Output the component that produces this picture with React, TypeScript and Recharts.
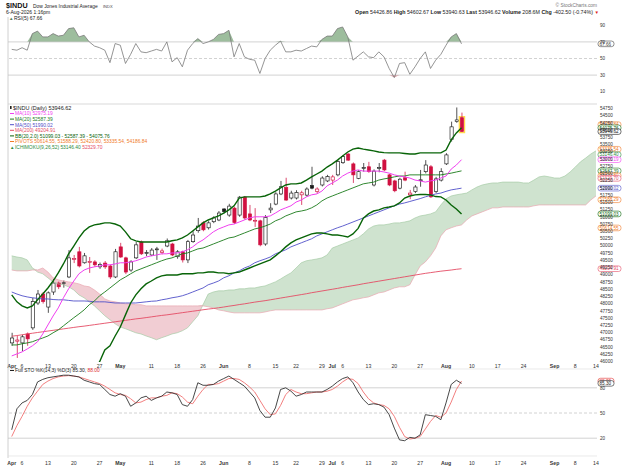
import React from 'react';
import { ComposedChart, Line, Area, Bar, XAxis, YAxis, ReferenceLine } from 'recharts';

const FONT = '"Liberation Sans", Arial, Helvetica, sans-serif';
const RED = '#d01040';
const X_DOMAIN: [number, number] = [-0.72, 113.2];

// ---- daily candles (Apr 1 .. Aug 6, 2026) ----
const openP = [46640, 46700, 46640, 46950, 47160, 48020, 48330, 47880, 48400, 48710,
  48700, 48920, 49520, 49790, 49410, 49420, 49440, 49270, 49400, 49300,
  48920, 49960, 49580, 49160, 49580, 50130, 49750, 49680, 49880, 49760,
  49990, 50060, 49620, 49790, 49510, 50140, 50520, 50790, 50620, 50830,
  50890, 51270, 51060, 51300, 51060, 51680, 51100, 50850, 50860, 50060,
  51240, 51440, 51790, 52010, 51650, 51650, 51760, 51750, 52080, 51870,
  52100, 52240, 52270, 52450, 52870, 53170, 52830, 52330, 52690, 52730,
  52100, 52690, 52960, 52450, 52240, 51990, 52350, 51760, 51870, 52260,
  52560, 52730, 51870, 52270, 52830, 53680, 54290, 54426.86];
const highP = [46990, 46880, 46920, 47000, 48200, 48470, 48400, 48420, 48850, 48760,
  48800, 49850, 49680, 49960, 49750, 49610, 49500, 49420, 49470, 49340,
  49890, 50100, 49620, 49500, 50130, 50180, 49850, 49920, 49960, 49900,
  50250, 50100, 49850, 49830, 50200, 50500, 50960, 50850, 50850, 51020,
  51200, 51300, 51450, 51350, 51720, 51720, 51410, 51300, 50900, 51060,
  51470, 51850, 52240, 52350, 51900, 51920, 51900, 52020, 52730, 52020,
  52400, 52450, 52450, 52960, 53140, 53200, 52880, 52610, 52860, 52900,
  52640, 52860, 53000, 52480, 52280, 52350, 52560, 51930, 52100, 52620,
  52960, 52790, 52380, 52680, 53200, 54290, 54780, 54602.67];
const lowP = [46540, 46120, 46360, 46540, 47090, 47950, 48000, 47680, 48300, 48500,
  48550, 48880, 49400, 49250, 49380, 49060, 49270, 49200, 49200, 48850,
  48880, 49580, 49020, 49100, 49540, 49680, 49640, 49640, 49510, 49700,
  49950, 49640, 49550, 49420, 49400, 50100, 50450, 50500, 50560, 50780,
  50850, 51120, 51000, 50750, 51000, 50900, 50850, 50650, 49980, 50000,
  51130, 51400, 51750, 51550, 51600, 51600, 51410, 51700, 51950, 51800,
  52050, 52200, 52100, 52400, 52830, 52930, 52170, 52300, 52560, 52520,
  52050, 52540, 52580, 52060, 51850, 51950, 52230, 51610, 51820, 52040,
  52500, 51650, 51820, 52220, 52790, 53600, 54250, 53940.63];
const closeP = [46810, 46740, 46850, 46780, 48070, 48330, 48070, 48370, 48710, 48580,
  48720, 49580, 49560, 49300, 49650, 49460, 49340, 49350, 49270, 48920,
  49790, 49610, 49090, 49440, 50030, 49720, 49760, 49850, 49890, 49820,
  50170, 49680, 49790, 49510, 50140, 50370, 50680, 50550, 50790, 50960,
  51130, 51180, 51370, 50800, 51680, 50960, 50890, 50880, 50030, 50970,
  51300, 51790, 52040, 51580, 51820, 51840, 51830, 51960, 51990, 51960,
  52340, 52390, 52380, 52910, 53080, 52960, 52450, 52560, 52700, 52560,
  52580, 52700, 52620, 52100, 51900, 52300, 52270, 51820, 52030, 52280,
  52790, 51690, 52310, 52560, 53140, 54110, 54349.12, 53946.62];

// ---- overlays ----
const ma10 = [46190, 46260, 46330, 46430, 46540, 46680, 46950, 47260, 47570, 47850,
  48200, 48510, 48780, 49030, 49160, 49230, 49270, 49300, 49340, 49340,
  49370, 49410, 49410, 49440, 49480, 49540, 49610, 49650, 49680, 49720,
  49720, 49750, 49750, 49790, 49860, 49960, 50100, 50200, 50340, 50480,
  50580, 50650, 50720, 50750, 50820, 50890, 50960, 51000, 51000, 51000,
  51030, 51130, 51240, 51310, 51380, 51510, 51580, 51690, 51760, 51790,
  51890, 52070, 52170, 52270, 52410, 52510, 52580, 52620, 52580, 52580,
  52580, 52580, 52550, 52510, 52450, 52410, 52380, 52340, 52270, 52240,
  52200, 52240, 52270, 52340, 52410, 52650, 52790, 52975.19];
const ma20 = [46570, 46570, 46610, 46640, 46680, 46750, 46810, 46880, 46990, 47090,
  47230, 47370, 47510, 47640, 47780, 47960, 48090, 48270, 48400, 48540,
  48680, 48820, 48920, 49030, 49130, 49200, 49270, 49340, 49410, 49480,
  49540, 49580, 49650, 49720, 49750, 49820, 49890, 49920, 49990, 50060,
  50130, 50200, 50270, 50300, 50370, 50440, 50510, 50580, 50620, 50680,
  50750, 50860, 50930, 51030, 51100, 51170, 51200, 51240, 51310, 51410,
  51550, 51650, 51720, 51790, 51860, 51930, 52000, 52070, 52140, 52170,
  52200, 52270, 52310, 52340, 52380, 52410, 52410, 52450, 52450, 52450,
  52450, 52450, 52450, 52450, 52480, 52510, 52550, 52587.39];
const ma50 = [48400, 48330, 48270, 48230, 48200, 48180, 48160, 48160, 48140, 48130,
  48130, 48110, 48090, 48090, 48090, 48080, 48060, 48060, 48060, 48040,
  48020, 48020, 48020, 48020, 48020, 48040, 48060, 48080, 48090, 48130,
  48160, 48200, 48230, 48270, 48330, 48400, 48470, 48540, 48650, 48710,
  48780, 48890, 48960, 49060, 49130, 49230, 49300, 49410, 49480, 49540,
  49610, 49720, 49790, 49860, 49960, 50030, 50100, 50170, 50240, 50340,
  50410, 50480, 50550, 50620, 50680, 50750, 50820, 50890, 50960, 51030,
  51100, 51170, 51240, 51310, 51380, 51440, 51480, 51530, 51580, 51630,
  51690, 51740, 51790, 51820, 51880, 51930, 51960, 51990.02];
const ma200 = [46870, 46895, 46920, 46950, 46975, 47000, 47025, 47050, 47075, 47100,
  47125, 47150, 47175, 47200, 47220, 47245, 47270, 47295, 47320, 47345,
  47370, 47395, 47420, 47445, 47470, 47490, 47515, 47540, 47565, 47590,
  47610, 47635, 47660, 47685, 47710, 47735, 47760, 47785, 47810, 47830,
  47855, 47880, 47910, 47935, 47965, 47990, 48020, 48050, 48075, 48100,
  48130, 48160, 48190, 48220, 48250, 48280, 48310, 48340, 48375, 48405,
  48435, 48465, 48495, 48525, 48560, 48590, 48620, 48650, 48685, 48715,
  48745, 48775, 48805, 48835, 48865, 48895, 48925, 48955, 48985, 49015,
  49045, 49070, 49095, 49120, 49140, 49160, 49185, 49204.91];
const bbUpper = [48300, 48060, 47920, 47850, 47920, 48130, 48330, 48540, 48780, 49060,
  49370, 49720, 49990, 50270, 50510, 50650, 50720, 50750, 50790, 50790,
  50750, 50680, 50480, 50240, 50170, 50130, 50130, 50130, 50130, 50130,
  50130, 50170, 50200, 50270, 50370, 50510, 50650, 50790, 50890, 50960,
  51030, 51130, 51240, 51380, 51650, 51690, 51690, 51690, 51690, 51720,
  51790, 51890, 52000, 52100, 52140, 52140, 52170, 52270, 52380, 52480,
  52580, 52720, 52830, 52960, 53100, 53240, 53340, 53380, 53340, 53310,
  53280, 53240, 53220, 53210, 53210, 53210, 53190, 53170, 53170, 53210,
  53210, 53210, 53210, 53210, 53310, 53660, 53900, 54075.76];
const bbLower = [45300, 45200, 45100, 45000, 44900, 44850, 44800, 44800, 44850, 44900,
  45000, 45050, 45100, 45200, 45300, 45500, 45750, 45990, 46400, 46540,
  46880, 47190, 47610, 48020, 48300, 48510, 48680, 48780, 48890, 48960,
  48990, 48990, 48990, 49030, 49030, 49030, 49060, 49060, 49090, 49090,
  49060, 49060, 49030, 49060, 49090, 49160, 49230, 49300, 49370, 49440,
  49510, 49650, 49790, 49960, 50100, 50200, 50270, 50340, 50410, 50440,
  50440, 50410, 50370, 50370, 50340, 50300, 50410, 50600, 50950, 51100,
  51200, 51240, 51310, 51340, 51380, 51480, 51650, 51720, 51760, 51770,
  51770, 51760, 51700, 51690, 51580, 51410, 51270, 51099.03];

// ---- Ichimoku cloud spans (plotted 26 sessions ahead: Apr 1 .. Sep 14) ----
const spanA = [49650, 49610, 49580, 49510, 49230, 49090, 49030, 48890, 48750, 48680,
  48650, 48580, 48470, 48300, 48200, 48060, 47920, 47750, 47580, 47440,
  47300, 47190, 47130, 47060, 46990, 46950, 46880, 46820, 46750, 46820,
  46880, 46950, 46990, 47060, 47160, 47370, 47580, 47960, 48330, 48400,
  48440, 48440, 48470, 48470, 48510, 48510, 48540, 48540, 48580, 48610,
  48680, 48750, 48850, 48960, 49060, 49230, 49410, 49480, 49510, 49540,
  49580, 49680, 49920, 49990, 50060, 50130, 50200, 50270, 50410, 50580,
  50680, 50720, 50720, 50750, 50790, 50790, 50820, 50860, 50960, 51030,
  51060, 51100, 51170, 51410, 51620, 51720, 51760, 51790, 51820, 51930,
  52030, 52100, 52140, 52170, 52170, 52200, 52200, 52200, 52200, 52170,
  52170, 52270, 52380, 52410, 52380, 52340, 52340, 52410, 52550, 52720,
  52900, 53030, 53170, 53280];
const spanB = [49160, 49130, 49130, 49130, 49160, 49160, 49230, 49090, 48890, 48820,
  48780, 48750, 48720, 48680, 48610, 48580, 48470, 48330, 48160, 48090,
  48060, 48020, 47990, 47990, 47960, 47960, 47920, 47920, 47920, 47920,
  47920, 47920, 47920, 47920, 47920, 47920, 47920, 47920, 47890, 47850,
  47780, 47750, 47710, 47680, 47680, 47680, 47680, 47680, 47680, 47710,
  47750, 47780, 47780, 47780, 47780, 47780, 47780, 47780, 47780, 47780,
  47780, 47820, 47850, 47920, 47990, 48060, 48130, 48160, 48200, 48230,
  48300, 48370, 48400, 48470, 48540, 48580, 48580, 48650, 48990, 49300,
  49440, 49650, 49920, 50340, 50550, 50620, 50680, 50720, 50890, 51030,
  51100, 51170, 51240, 51310, 51310, 51340, 51340, 51340, 51340, 51340,
  51340, 51380, 51410, 51410, 51410, 51410, 51410, 51410, 51410, 51410,
  51410, 51410, 51580, 51720];

// ---- indicator panels ----
const rsi5 = [61, 60, 63, 60, 80, 83, 76, 76, 80, 77,
  78, 86, 87, 76, 78, 70, 65, 63, 60, 45,
  68, 66, 44, 55, 68, 58, 57, 59, 61, 59,
  70, 46, 51, 40, 60, 68, 74, 68, 70, 73,
  79, 80, 84, 52, 68, 52, 49, 48, 32, 50,
  60, 66, 71, 58, 58, 60, 59, 62, 65, 64,
  73, 77, 77, 86, 88, 76, 48, 53, 58, 52,
  51, 58, 52, 38, 27, 44, 45, 31, 40, 50,
  58, 38, 48, 55, 66, 76, 80, 67.66];
const stoK = [30, 55, 62, 65, 72, 87, 90, 92, 93, 94,
  95, 95, 94, 93, 89, 87, 85, 84, 78, 72,
  70, 73, 70, 58, 62, 68, 70, 65, 68, 70,
  75, 74, 72, 60, 58, 66, 86, 83, 83, 84,
  88, 91, 94, 90, 86, 82, 75, 68, 53, 45,
  45, 56, 78, 80, 76, 70, 72, 75, 75, 75,
  75, 78, 82, 87, 91, 93, 86, 75, 66, 60,
  61, 60, 57, 48, 32, 18, 17, 21, 20, 24,
  48, 47, 46, 42, 62, 84, 89, 85.3];
const stoD = [22, 35, 46, 58, 68, 76, 84, 88, 91, 93,
  94, 94.5, 94, 93, 91, 89, 87, 85, 82, 78,
  74, 72, 71, 67, 62, 63, 66, 68, 68, 70,
  71, 74, 73, 69, 63, 61, 70, 78, 84, 84,
  85, 88, 91, 91, 90, 86, 81, 75, 65, 55,
  48, 49, 59, 72, 78, 75, 73, 73, 74, 75,
  75, 76, 78, 82, 87, 91, 90, 85, 75, 67,
  62, 60, 59, 55, 46, 33, 22, 19, 20, 22,
  31, 40, 47, 45, 50, 63, 78, 88];

// ---- axes ----
const dateTickIdx = [0, 2, 7, 12, 17, 21, 27, 32, 37, 41, 46, 51, 55, 60, 62, 64, 69, 74, 79, 84, 89, 94, 99, 105, 109, 113];
const dateTickText = ['Apr', '6', '13', '20', '27', 'May', '11', '18', '26', 'Jun', '8', '15', '22', '29', 'Jul', '6', '13', '20', '27', 'Aug', '10', '17', '24', 'Sep', '8', '14'];
const monthNames = ['Apr', 'May', 'Jun', 'Jul', 'Aug', 'Sep'];
const priceTicks = [46000, 46250, 46500, 46750, 47000, 47250, 47500, 47750, 48000, 48250, 48500, 48750,
  49000, 49250, 49500, 49750, 50000, 50250, 50500, 50750, 51000, 51250, 51500, 51750,
  52000, 52250, 52500, 52750, 53000, 53250, 53500, 53750, 54000, 54250, 54500, 54750];
const rsiTicks = [10, 30, 50, 70, 90];
const stoTicks = [20, 50, 80];

const C_MA10 = '#f040f0';
const C_MA20 = '#1a7a1a';
const C_MA50 = '#5050c8';
const C_MA200 = '#e44c64';
const C_BB = '#086408';
const C_PIV = '#f07a28';
const C_ICH = '#2e8b3e';

const valueBoxes = [
  { v: 54186.84, t: '54186.84', c: C_PIV },
  { v: 54075.76, t: '54075.76', c: C_BB },
  { v: 53946.62, t: '53946.62', c: '#111' },
  { v: 53335.54, t: '53335.54', c: C_PIV },
  { v: 53146.40, t: '53146.40', c: C_ICH },
  { v: 52975.19, t: '52975.19', c: C_MA10 },
  { v: 52587.39, t: '52587.39', c: C_MA20 },
  { v: 52420.80, t: '52420.80', c: C_PIV },
  { v: 52329.70, t: '52329.70', c: C_MA200 },
  { v: 51990.02, t: '51990.02', c: C_MA50 },
  { v: 51588.29, t: '51588.29', c: C_PIV },
  { v: 51099.03, t: '51099.03', c: C_BB },
  { v: 50614.55, t: '50614.55', c: C_PIV },
  { v: 49204.91, t: '49204.91', c: C_MA200 },
];

const N = closeP.length;

const mainData = spanA.map((a, i) => {
  const b = spanB[i];
  const hi = Math.max(a, b);
  const row: any = { i, spanA: a, spanB: b, green: [b, hi], red: [a, hi] };
  if (i < N) {
    row.range = [lowP[i], highP[i]];
    row.o = openP[i];
    row.h = highP[i];
    row.l = lowP[i];
    row.c = closeP[i];
    row.pc = i > 0 ? closeP[i - 1] : null;
    row.ma10 = ma10[i];
    row.ma20 = ma20[i];
    row.ma50 = ma50[i];
    row.ma200 = ma200[i];
    row.bbU = bbUpper[i];
    row.bbL = bbLower[i];
  }
  return row;
});

const rsiData = rsi5.map((v, i) => ({ i, rsi: v, hiBand: [70, Math.max(v, 70)], loBand: [Math.min(v, 30), 30] }));
const stoData = stoK.map((k, i) => ({ i, k, d: stoD[i] }));

function Candle(props: any) {
  const { x, y, width, height, payload } = props;
  if (!payload || payload.o == null || !isFinite(y) || !isFinite(height)) return null;
  const top = Math.min(y, y + height);
  const hgt = Math.abs(height);
  const { o, h, l, c, pc } = payload;
  const ppu = h > l ? hgt / (h - l) : 0;
  const py = (v: number) => top + (h - v) * ppu;
  const cx = x + width / 2;
  const hollow = c >= o;
  const col = pc != null && c < pc ? RED : '#1a1a1a';
  const bTop = py(Math.max(o, c));
  const bH = Math.max(py(Math.min(o, c)) - bTop, 0.9);
  const bw = 3.2;
  return (
    <g>
      {payload.i === N - 1 && (
        <rect x={cx - bw / 2 - 1} y={bTop - 1} width={bw + 2} height={bH + 2} fill="none" stroke="#ffd84a" strokeWidth={1.3} />
      )}
      <line x1={cx} x2={cx} y1={top} y2={top + hgt} stroke={col} strokeWidth={0.75} />
      <rect x={cx - bw / 2} y={bTop} width={bw} height={bH} fill={hollow ? '#fff' : col} stroke={col} strokeWidth={0.65} />
    </g>
  );
}

function ValueBox(props: any) {
  const { viewBox, text, color, w } = props;
  if (!viewBox) return null;
  const x = viewBox.x + viewBox.width + 1;
  const y = viewBox.y;
  const bw = w || 23;
  return (
    <g>
      <rect x={x} y={y - 2.8} width={bw} height={5.6} rx={2.5} fill="#fff" stroke={color} strokeWidth={0.6} />
      <text x={x + 1.5} y={y + 1.7} fontSize={4.6} fill={color} fontFamily={FONT}>{text}</text>
    </g>
  );
}

function SideTick(props: any) {
  const { x, y, payload } = props;
  return (
    <text x={x} y={y + 1.7} fontSize={4.6} fill="#333" fontFamily={FONT}>{payload.value}</text>
  );
}

function makeDateTick(dy: number) {
  return function DateTick(props: any) {
    const { x, y, payload } = props;
    const k = dateTickIdx.indexOf(payload.value);
    const label = k >= 0 ? dateTickText[k] : '';
    const bold = monthNames.indexOf(label) >= 0;
    return (
      <text x={x} y={y + dy} textAnchor="middle" fontSize={5.2} fontWeight={bold ? 'bold' : 'normal'} fill="#333" fontFamily={FONT}>
        {label}
      </text>
    );
  };
}
const MainDateTick = makeDateTick(5.5);
const StoDateTick = makeDateTick(10);

const legendRows = [
  { t: 'MA(10) 52975.19', c: C_MA10 },
  { t: 'MA(20) 52587.39', c: C_MA20 },
  { t: 'MA(50) 51990.02', c: C_MA50 },
  { t: 'MA(200) 49204.91', c: C_MA200 },
  { t: 'BB(20,2.0) 51099.03 - 52587.39 - 54075.76', c: C_BB },
  { t: 'PIVOTS 50614.55, 51588.29, 52420.80, 53335.54, 54186.84', c: C_PIV },
];

export default function App() {
  return (
    <div style={{ position: 'absolute', left: 0, top: 0, width: 624, height: 467, background: '#fff', overflow: 'hidden', fontFamily: FONT }}>
      {/* RSI panel */}
      <div style={{ position: 'absolute', left: 0, top: 0 }}>
        <ComposedChart width={624} height={104} data={rsiData} margin={{ top: 17, right: 0, bottom: 4, left: 8 }}>
          <XAxis dataKey="i" type="number" domain={X_DOMAIN} allowDataOverflow hide />
          <YAxis orientation="right" width={27} domain={[0, 100]} allowDataOverflow ticks={rsiTicks} interval={0}
            tick={<SideTick />} tickLine={false} axisLine={false} tickSize={0} tickMargin={3} />
          <ReferenceLine y={70} stroke="#c6c6c6" strokeWidth={0.8} />
          <ReferenceLine y={50} stroke="#c6c6c6" strokeWidth={0.8} strokeDasharray="3 2" />
          <ReferenceLine y={30} stroke="#c6c6c6" strokeWidth={0.8} />
          <Area dataKey="hiBand" fill="#9dbd9d" fillOpacity={1} stroke="none" isAnimationActive={false} />
          <Area dataKey="loBand" fill="#e4a4ac" fillOpacity={1} stroke="none" isAnimationActive={false} />
          <Line dataKey="rsi" stroke="#7a7a7a" strokeWidth={0.8} dot={false} isAnimationActive={false} />
          <ReferenceLine y={67.66} stroke="none" label={<ValueBox text="67.66" color="#444" w={16} />} />
        </ComposedChart>
      </div>

      {/* Price panel */}
      <div style={{ position: 'absolute', left: 0, top: 104 }}>
        <ComposedChart width={624} height={268} data={mainData} margin={{ top: 0, right: 0, bottom: 0, left: 8 }}>
          <XAxis dataKey="i" type="number" domain={X_DOMAIN} allowDataOverflow ticks={dateTickIdx} interval={0}
            tick={<MainDateTick />} tickLine={false} axisLine={false} height={10} tickSize={0} tickMargin={0} />
          <YAxis orientation="right" width={27} domain={[45980, 54900]} allowDataOverflow ticks={priceTicks} interval={0}
            tick={<SideTick />} tickLine={false} axisLine={false} tickSize={0} tickMargin={3} />
          <Area dataKey="green" fill="#cfe3cf" fillOpacity={1} stroke="none" isAnimationActive={false} />
          <Area dataKey="red" fill="#f1cdd3" fillOpacity={1} stroke="none" isAnimationActive={false} />
          <Line dataKey="spanA" stroke="#a6cca6" strokeWidth={0.7} dot={false} isAnimationActive={false} />
          <Line dataKey="spanB" stroke="#eaa6b0" strokeWidth={0.7} dot={false} isAnimationActive={false} />
          <Line dataKey="ma200" stroke={C_MA200} strokeWidth={0.9} dot={false} isAnimationActive={false} />
          <Line dataKey="ma50" stroke={C_MA50} strokeWidth={0.9} dot={false} isAnimationActive={false} />
          <Line dataKey="ma20" stroke={C_MA20} strokeWidth={0.9} dot={false} isAnimationActive={false} />
          <Line dataKey="bbU" stroke={C_BB} strokeWidth={1.4} dot={false} isAnimationActive={false} />
          <Line dataKey="bbL" stroke={C_BB} strokeWidth={1.4} dot={false} isAnimationActive={false} />
          <Line dataKey="ma10" stroke={C_MA10} strokeWidth={1} dot={false} isAnimationActive={false} />
          <Bar dataKey="range" barSize={4} isAnimationActive={false} shape={(p: any) => <Candle {...p} />} />
          {valueBoxes.map((b) => (
            <ReferenceLine key={b.t} y={b.v} stroke="none" label={<ValueBox text={b.t} color={b.c} />} />
          ))}
        </ComposedChart>
      </div>

      {/* Stochastics panel */}
      <div style={{ position: 'absolute', left: 0, top: 371 }}>
        <ComposedChart width={624} height={96} data={stoData} margin={{ top: 0, right: 0, bottom: 0, left: 8 }}>
          <XAxis dataKey="i" type="number" domain={X_DOMAIN} allowDataOverflow ticks={dateTickIdx} interval={0}
            tick={<StoDateTick />} tickLine={false} axisLine={false} height={12} tickSize={0} tickMargin={0} />
          <YAxis orientation="right" width={27} domain={[0, 100]} allowDataOverflow ticks={stoTicks} interval={0}
            tick={<SideTick />} tickLine={false} axisLine={false} tickSize={0} tickMargin={3} />
          <ReferenceLine y={80} stroke="#c6c6c6" strokeWidth={0.8} />
          <ReferenceLine y={50} stroke="#c6c6c6" strokeWidth={0.8} strokeDasharray="3 2" />
          <ReferenceLine y={20} stroke="#c6c6c6" strokeWidth={0.8} />
          <Line dataKey="d" stroke="#f07070" strokeWidth={0.9} dot={false} isAnimationActive={false} />
          <Line dataKey="k" stroke="#333" strokeWidth={0.9} dot={false} isAnimationActive={false} />
          <ReferenceLine y={88} stroke="none" label={<ValueBox text="88.00" color="#e03030" w={16} />} />
          <ReferenceLine y={85.3} stroke="none" label={<ValueBox text="85.30" color="#222" w={16} />} />
        </ComposedChart>
      </div>

      {/* Text overlay */}
      <svg width={624} height={467} style={{ position: 'absolute', left: 0, top: 0, pointerEvents: 'none' }} fontFamily={FONT}>
        <line x1={8} x2={8} y1={17} y2={458} stroke="#c4c4c4" strokeWidth={0.8} />
        <line x1={8} x2={597} y1={104} y2={104} stroke="#cfcfcf" strokeWidth={0.8} />
        <line x1={8} x2={597} y1={369} y2={369} stroke="#dcdcdc" strokeWidth={0.6} />
        <line x1={8} x2={597} y1={456} y2={456} stroke="#dcdcdc" strokeWidth={0.6} />

        <text x={6} y={8} fontSize={7.2} fontWeight="bold" fill="#111">$INDU</text>
        <text x={33} y={8} fontSize={4.9} fill="#222">Dow Jones Industrial Average</text>
        <text x={103} y={8} fontSize={4} fill="#444">INDX</text>
        <text x={597} y={6.5} fontSize={4.8} textAnchor="end" fill="#777">© StockCharts.com</text>
        <text x={6} y={14} fontSize={5} fill="#222">6-Aug-2026 1:16pm</text>
        <text x={593} y={14} fontSize={5.3} textAnchor="end" fill="#222">
          <tspan fontWeight="bold">Open</tspan> 54426.86 <tspan fontWeight="bold">High</tspan> 54602.67{' '}
          <tspan fontWeight="bold">Low</tspan> 53940.63 <tspan fontWeight="bold">Last</tspan> 53946.62{' '}
          <tspan fontWeight="bold">Volume</tspan> 208.6M <tspan fontWeight="bold">Chg</tspan> -402.50 (-0.74%)
        </text>
        <text x={594.5} y={14} fontSize={4.5} fill="#e02020">▼</text>

        <text x={9} y={19.5} fontSize={4.5} fill="#5a805a">▲</text>
        <text x={14} y={19.5} fontSize={5} fill="#222">RSI(5) 67.66</text>

        <rect x={10} y={106} width={1.6} height={3} fill="#222" />
        <text x={13} y={109.5} fontSize={5.5} fill="#222">$INDU (Daily) 53946.62</text>
        {legendRows.map((r, k) => (
          <g key={r.t}>
            <line x1={10} x2={14} y1={113.5 + k * 5.6} y2={113.5 + k * 5.6} stroke={r.c} strokeWidth={1} />
            <text x={15} y={115.3 + k * 5.6} fontSize={4.9} fill={r.c}>{r.t}</text>
          </g>
        ))}
        <text x={10} y={148.5} fontSize={4.5} fill={C_ICH}>▲</text>
        <text x={15} y={148.5} fontSize={4.9} fill={C_ICH}>
          ICHIMOKU(9,26,52) 53146.40 <tspan fill={C_MA200}>52329.70</tspan>
        </text>

        <line x1={10} x2={14} y1={370.5} y2={370.5} stroke="#222" strokeWidth={1} />
        <text x={15} y={372.3} fontSize={4.9} fill="#222">
          Full STO %K(14,3) %D(3) 85.30, <tspan fill="#e03030">88.00</tspan>
        </text>
      </svg>
    </div>
  );
}
